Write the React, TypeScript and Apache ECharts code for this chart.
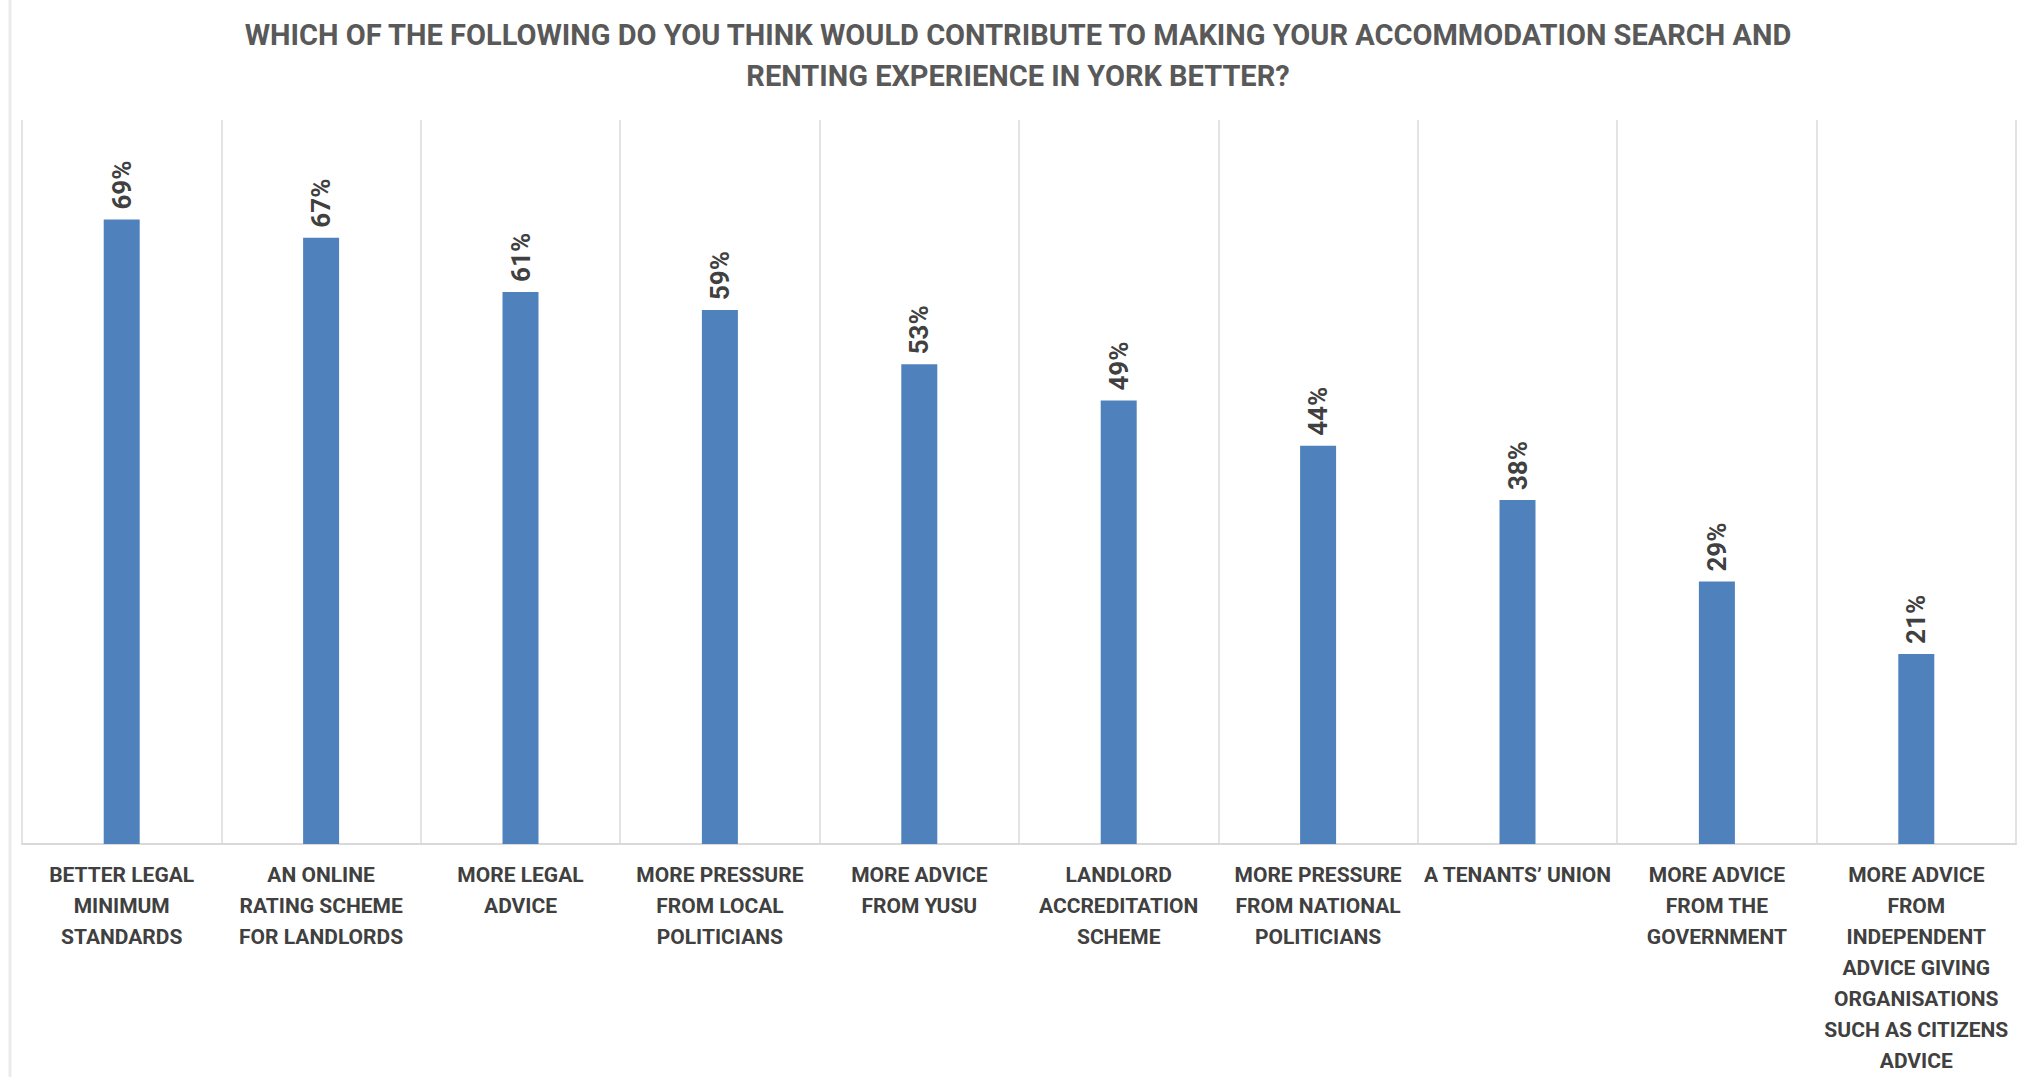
import React, { useEffect, useRef } from "react";
import * as echarts from "echarts";

const titleText =
  "WHICH OF THE FOLLOWING DO YOU THINK WOULD CONTRIBUTE TO MAKING YOUR ACCOMMODATION SEARCH AND\nRENTING EXPERIENCE IN YORK BETTER?";

const categories = [
  "BETTER LEGAL\nMINIMUM\nSTANDARDS",
  "AN ONLINE\nRATING SCHEME\nFOR LANDLORDS",
  "MORE LEGAL\nADVICE",
  "MORE PRESSURE\nFROM LOCAL\nPOLITICIANS",
  "MORE ADVICE\nFROM YUSU",
  "LANDLORD\nACCREDITATION\nSCHEME",
  "MORE PRESSURE\nFROM NATIONAL\nPOLITICIANS",
  "A TENANTS’ UNION",
  "MORE ADVICE\nFROM THE\nGOVERNMENT",
  "MORE ADVICE\nFROM\nINDEPENDENT\nADVICE GIVING\nORGANISATIONS\nSUCH AS CITIZENS\nADVICE",
];

const values = [69, 67, 61, 59, 53, 49, 44, 38, 29, 21];

export default function App() {
  const ref = useRef<HTMLDivElement>(null);

  useEffect(() => {
    document.body.style.margin = "0";
    if (!ref.current) return;
    const chart = echarts.init(ref.current, null, { renderer: "svg" });
    chart.setOption({
      animation: false,
      backgroundColor: "#ffffff",
      graphic: [
        {
          type: "line",
          shape: { x1: 10, y1: 0, x2: 10, y2: 1077 },
          style: { stroke: "#EBEBEB", lineWidth: 3 },
        },
        {
          type: "text",
          x: 1018,
          y: 14,
          style: {
            text: titleText,
            align: "center",
            verticalAlign: "top",
            fontFamily: "Roboto",
            fontWeight: "bold",
            fontSize: 29,
            lineHeight: 41,
            fill: "#595959",
          },
        },
      ],
      grid: { left: 22, right: 13, top: 120, bottom: 233, containLabel: false },
      xAxis: {
        type: "category",
        data: categories,
        axisTick: { show: false },
        axisLine: { show: true, lineStyle: { color: "#D9D9D9", width: 2 } },
        splitLine: { show: true, lineStyle: { color: "#E3E3E3", width: 2 } },
        axisLabel: {
          interval: 0,
          margin: 15,
          fontFamily: "Roboto",
          fontWeight: "bold",
          fontSize: 21,
          lineHeight: 31,
          color: "#404040",
          align: "center",
        },
      },
      yAxis: {
        type: "value",
        min: 0,
        max: 80,
        show: false,
        splitLine: { show: false },
      },
      series: [
        {
          type: "bar",
          data: values,
          barWidth: 36,
          itemStyle: { color: "#4F81BD" },
          label: {
            show: true,
            position: "top",
            distance: 10,
            rotate: 90,
            align: "left",
            verticalAlign: "middle",
            formatter: "{c}%",
            fontFamily: "Roboto",
            fontWeight: "bold",
            fontSize: 26,
            color: "#404040",
          },
        },
      ],
    });
    return () => chart.dispose();
  }, []);

  return <div ref={ref} style={{ width: 2029, height: 1077 }} />;
}
